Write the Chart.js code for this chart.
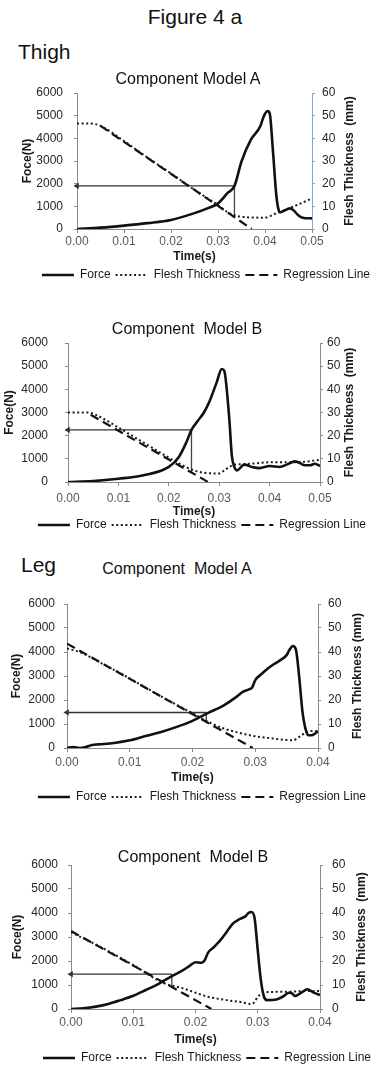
<!DOCTYPE html>
<html>
<head>
<meta charset="utf-8">
<title>Figure 4 a</title>
<script src="https://cdn.jsdelivr.net/npm/chart.js@4.4.1/dist/chart.umd.min.js"></script>
<style>
  html, body { margin: 0; padding: 0; background: #fff; }
  body { width: 385px; height: 1067px; position: relative; overflow: hidden;
         font-family: "Liberation Sans", Arial, sans-serif; color: #111; }
  .txt { position: absolute; white-space: pre; z-index: 2; }
  .fig { font-size: 21px; line-height: 24px; }
  .part { font-size: 21px; line-height: 24px; }
  .ctitle { font-size: 16px; line-height: 19px; width: 300px; text-align: center; }
  canvas { position: absolute; left: 0; z-index: 1; }
</style>
</head>
<body>
<div class="txt fig" style="left:0;width:390px;text-align:center;top:5px;">Figure 4 a</div>
<div class="txt part" style="left:18px;top:40px;">Thigh</div>
<div class="txt part" style="left:21px;top:553px;">Leg</div>

<div class="txt ctitle" style="left:38px;top:69px;">Component Model A</div>
<div class="txt ctitle" style="left:37px;top:319px;">Component  Model B</div>
<div class="txt ctitle" style="left:27px;top:559px;">Component  Model A</div>
<div class="txt ctitle" style="left:43px;top:847px;">Component  Model B</div>

<canvas id="thighA" width="385" height="224"></canvas>
<canvas id="thighB" width="385" height="224"></canvas>
<canvas id="legA" width="385" height="235"></canvas>
<canvas id="legB" width="385" height="235"></canvas>

<script>
// ---- axis ranges and legend names ----
const seriesNames = ['Force', 'Flesh Thickness', 'Regression Line'];
const forceAxis = [0, 6000, 1000];      // min, max, step (N)
const thicknessAxis = [0, 60, 10];      // min, max, step (mm)
const thighTimeAxis = [0, 0.05, 0.01];  // min, max, step (s)
const legTimeAxis = [0, 0.04, 0.01];

// ---- Thigh, component model A ----
const thighA_time = [0, 0.005, 0.01, 0.015, 0.02, 0.025, 0.028, 0.03, 0.032, 0.0335, 0.035, 0.037, 0.039, 0.0396, 0.0405, 0.041, 0.0417, 0.0424, 0.0429, 0.0433, 0.044, 0.0453, 0.046, 0.047, 0.048, 0.05];
const thighA_force = [0, 60, 150, 260, 400, 700, 930, 1130, 1580, 1900, 2980, 3940, 4530, 4900, 5200, 5100, 3420, 1500, 840, 740, 800, 910, 840, 620, 500, 470];
const thighA_thickTime = [0, 0.003, 0.005, 0.01, 0.015, 0.02, 0.025, 0.03, 0.032, 0.034, 0.036, 0.04, 0.042, 0.045, 0.0475, 0.05];
const thighA_thick = [46.5, 46.5, 45.5, 38.8, 31.5, 24.5, 17.3, 10.5, 7.5, 5.8, 5.2, 5, 6.6, 9, 11.2, 13.5];
const thighA_regTime = [0.005, 0.0372];
const thighA_reg = [45.5, 0];
const thighA_arrow = [0.0335, 1900, 590];   // time, force level, lower end (N)

// ---- Thigh, component model B ----
const thighB_time = [0, 0.005, 0.01, 0.015, 0.02, 0.022, 0.0235, 0.0245, 0.0258, 0.027, 0.028, 0.0295, 0.0305, 0.031, 0.032, 0.0325, 0.033, 0.0335, 0.035, 0.0365, 0.038, 0.04, 0.042, 0.0435, 0.045, 0.046, 0.047, 0.048, 0.049, 0.05];
const thighB_force = [0, 40, 140, 290, 650, 1080, 1720, 2250, 2650, 3010, 3440, 4300, 4880, 4800, 2730, 1150, 650, 500, 750, 650, 600, 690, 650, 760, 890, 820, 720, 720, 790, 690];
const thighB_thickTime = [0, 0.004, 0.006, 0.01, 0.015, 0.02, 0.022, 0.025, 0.027, 0.03, 0.031, 0.032, 0.033, 0.035, 0.037, 0.04, 0.045, 0.05];
const thighB_thick = [30, 30, 28.5, 23.5, 17, 10.5, 8, 5, 4, 3.7, 5, 6.5, 7.5, 7.7, 8, 8.5, 8.5, 9.5];
const thighB_regTime = [0.0045, 0.0278];
const thighB_reg = [29, 0];
const thighB_arrow = [0.0245, 2250, 430];

// ---- Leg, component model A ----
const legA_time = [0, 0.001, 0.002, 0.003, 0.004, 0.005, 0.0075, 0.01, 0.0125, 0.015, 0.0175, 0.02, 0.0225, 0.025, 0.027, 0.028, 0.029, 0.0295, 0.03, 0.031, 0.032, 0.033, 0.034, 0.035, 0.0355, 0.036, 0.0365, 0.037, 0.0375, 0.038, 0.0385, 0.039, 0.0395, 0.04];
const legA_force = [0, 40, 0, 40, 125, 150, 210, 320, 500, 670, 880, 1130, 1460, 1780, 2130, 2340, 2440, 2520, 2830, 3080, 3310, 3500, 3660, 3870, 4110, 4250, 4080, 2970, 1570, 810, 530, 530, 600, 700];
const legA_thickTime = [0, 0.0025, 0.005, 0.01, 0.015, 0.02, 0.0225, 0.025, 0.0275, 0.03, 0.033, 0.036, 0.037, 0.038, 0.039, 0.04];
const legA_thick = [41.5, 39.5, 36, 29, 21.5, 14.5, 10.9, 8.1, 6.3, 4.9, 3.9, 3.2, 4.6, 6.3, 7.1, 7];
const legA_regTime = [0, 0.0296];
const legA_reg = [43.5, 0];
const legA_arrow = [0.0222, 1480, 1090];

// ---- Leg, component model B ----
const legB_time = [0, 0.002, 0.004, 0.006, 0.008, 0.01, 0.012, 0.014, 0.016, 0.018, 0.019, 0.02, 0.021, 0.0215, 0.022, 0.023, 0.024, 0.025, 0.026, 0.027, 0.028, 0.0285, 0.029, 0.0295, 0.03, 0.0305, 0.031, 0.0315, 0.033, 0.034, 0.035, 0.0355, 0.036, 0.037, 0.038, 0.039, 0.04];
const legB_force = [0, 30, 100, 210, 370, 550, 790, 1040, 1340, 1620, 1790, 1950, 1930, 2040, 2340, 2590, 2870, 3210, 3560, 3730, 3860, 4000, 4040, 3770, 2450, 1200, 510, 370, 400, 510, 680, 650, 540, 680, 820, 680, 580];
const legB_thickTime = [0, 0.005, 0.01, 0.015, 0.018, 0.02, 0.022, 0.025, 0.027, 0.029, 0.0295, 0.03, 0.031, 0.032, 0.035, 0.038, 0.04];
const legB_thick = [32, 25.5, 18.3, 10.7, 8.6, 6.8, 5.1, 3.7, 3, 2.1, 3, 5.1, 6.8, 7.1, 7.2, 7.5, 7.5];
const legB_regTime = [0, 0.02255];
const legB_reg = [32.5, 0];
const legB_arrow = [0.0162, 1450, 950];

// ---- drawing ----
const FONT = '"Liberation Sans", Arial, sans-serif';
const GREY = '#8a8a8a';
const TOP_GAP = 26;   // canvas space kept above each plot area

function pts(xs, ys) { return xs.map((x, i) => ({ x: x, y: ys[i] })); }

// Rotated title for the secondary (right) axis, reading bottom-to-top
const rightTitlePlugin = {
  id: 'rightTitle',
  afterDraw(chart, args, opts) {
    const { ctx, chartArea } = chart;
    ctx.save();
    ctx.translate(opts.x, (chartArea.top + chartArea.bottom) / 2);
    ctx.rotate(-Math.PI / 2);
    ctx.font = 'bold 12px ' + FONT;
    ctx.fillStyle = '#1a1a1a';
    ctx.textAlign = 'center';
    ctx.textBaseline = 'middle';
    ctx.fillText(opts.text, 0, 0);
    ctx.restore();
  }
};

// Legend entries: the three measured series, each sampled with its own stroke
function legendLabels(chart) {
  return Chart.defaults.plugins.legend.labels.generateLabels(chart)
    .filter(item => item.datasetIndex < 3)
    .map(item => {
      const ds = chart.data.datasets[item.datasetIndex];
      item.lineDash = ds.borderDash || [];
      item.lineWidth = ds.borderWidth;
      item.strokeStyle = ds.borderColor;
      item.fillStyle = ds.borderColor;
      item.pointStyle = 'line';
      return item;
    });
}

function makeChart(canvasId, d, L) {
  const canvas = document.getElementById(canvasId);
  canvas.style.top = (L.plotTop - TOP_GAP) + 'px';
  const W = 385;
  const padRight = W - 2 * L.legendX;      // centres the legend row
  const datasets = [
    { label: seriesNames[0], data: pts(d.time, d.force), yAxisID: 'y',
      borderColor: '#111', backgroundColor: '#111', borderWidth: 2.6,
      pointRadius: 0, cubicInterpolationMode: 'monotone' },
    { label: seriesNames[1], data: pts(d.thickTime, d.thick), yAxisID: 'y2',
      borderColor: '#1a1a1a', backgroundColor: '#1a1a1a', borderWidth: 2,
      borderDash: [2, 2.6], pointRadius: 0, cubicInterpolationMode: 'monotone' },
    { label: seriesNames[2], data: pts(d.regTime, d.reg), yAxisID: 'y2',
      borderColor: '#111', backgroundColor: '#111', borderWidth: 2.2,
      borderDash: [9, 5], pointRadius: 0 },
    { label: 'arrowH', data: [{ x: d.arrow[0], y: d.arrow[1] }, { x: 0, y: d.arrow[1] }], yAxisID: 'y',
      borderColor: '#333', backgroundColor: '#333', borderWidth: 1.3,
      pointRadius: [0, 3.6], pointStyle: 'triangle', rotation: -90, pointBorderWidth: 0,
      pointBackgroundColor: '#333', clip: false },
    { label: 'arrowV', data: [{ x: d.arrow[0], y: d.arrow[1] }, { x: d.arrow[0], y: d.arrow[2] }], yAxisID: 'y',
      borderColor: '#444', borderWidth: 1.3, pointRadius: 0 }
  ];
  return new Chart(canvas, {
    type: 'line',
    data: { datasets: datasets },
    plugins: [rightTitlePlugin],
    options: {
      responsive: false, animation: false, devicePixelRatio: 1,
      layout: { padding: { top: TOP_GAP, left: 0, right: padRight, bottom: 0 } },
      plugins: {
        title: { display: false },
        tooltip: { enabled: false },
        rightTitle: { x: L.rightTitleX, text: L.rightTitle },
        legend: {
          position: 'bottom',
          labels: {
            generateLabels: legendLabels,
            usePointStyle: true, pointStyle: 'line', pointStyleWidth: 32, boxHeight: 12,
            padding: 5, color: '#1a1a1a', font: { family: FONT, size: 12 }
          }
        }
      },
      scales: {
        x: {
          type: 'linear', position: 'bottom',
          min: d.timeAxis[0], max: d.timeAxis[1],
          afterFit: s => { s.height = L.xH; },
          ticks: { stepSize: d.timeAxis[2], maxRotation: 0, autoSkip: false, padding: L.xTickPad,
                   color: '#595959', font: { family: FONT, size: 12 },
                   callback: v => Number(v).toFixed(2) },
          grid: { display: true, drawOnChartArea: false, drawTicks: true, tickLength: 4, color: GREY },
          border: { display: true, color: GREY, width: 1 },
          title: { display: true, text: 'Time(s)', color: '#1a1a1a',
                   font: { family: FONT, size: 12, weight: 'bold' }, padding: { top: 0, bottom: L.timePad } }
        },
        y: {
          type: 'linear', position: 'left',
          min: forceAxis[0], max: forceAxis[1],
          afterFit: s => { s.width = L.plotLeft; },
          ticks: { stepSize: forceAxis[2], padding: L.leftTickGap - 3, color: '#262626',
                   font: { family: FONT, size: 12 }, callback: v => String(v) },
          grid: { display: true, drawOnChartArea: false, drawTicks: true, tickLength: 3, color: GREY },
          border: { display: true, color: GREY, width: 1 },
          title: { display: true, text: 'Foce(N)', color: '#1a1a1a',
                   font: { family: FONT, size: 12, weight: 'bold' },
                   padding: { top: L.leftTitleX - 7.2, bottom: 0 } }
        },
        y2: {
          type: 'linear', position: 'right',
          min: thicknessAxis[0], max: thicknessAxis[1],
          afterFit: s => { s.width = (W - padRight) - L.plotRight; },
          ticks: { stepSize: thicknessAxis[2], padding: L.rightTickGap - 3, color: '#262626',
                   font: { family: FONT, size: 12 }, callback: v => String(v) },
          grid: { display: true, drawOnChartArea: false, drawTicks: true, tickLength: 3, color: L.rightColor },
          border: { display: true, color: L.rightColor, width: 1 }
        }
      }
    }
  });
}

makeChart('thighA',
  { time: thighA_time, force: thighA_force, thickTime: thighA_thickTime, thick: thighA_thick,
    regTime: thighA_regTime, reg: thighA_reg, arrow: thighA_arrow, timeAxis: thighTimeAxis },
  { plotTop: 93, plotLeft: 77, plotRight: 312, xH: 35, xTickPad: 1, timePad: 0,
    legendX: 206, leftTitleX: 28, leftTickGap: 14, rightTickGap: 10, rightTitleX: 350,
    rightTitle: 'Flesh Thickness  (mm)', rightColor: '#86a5d6' });

makeChart('thighB',
  { time: thighB_time, force: thighB_force, thickTime: thighB_thickTime, thick: thighB_thick,
    regTime: thighB_regTime, reg: thighB_reg, arrow: thighB_arrow, timeAxis: thighTimeAxis },
  { plotTop: 343, plotLeft: 68, plotRight: 320, xH: 32, xTickPad: 5, timePad: -5.2,
    legendX: 202, leftTitleX: 10, leftTickGap: 20, rightTickGap: 7, rightTitleX: 350,
    rightTitle: 'Flesh Thickness  (mm)', rightColor: GREY });

makeChart('legA',
  { time: legA_time, force: legA_force, thickTime: legA_thickTime, thick: legA_thick,
    regTime: legA_regTime, reg: legA_reg, arrow: legA_arrow, timeAxis: legTimeAxis },
  { plotTop: 604, plotLeft: 67, plotRight: 318, xH: 38, xTickPad: 3, timePad: 0.8,
    legendX: 202, leftTitleX: 17, leftTickGap: 12, rightTickGap: 10, rightTitleX: 358,
    rightTitle: 'Flesh Thickness (mm)', rightColor: GREY });

makeChart('legB',
  { time: legB_time, force: legB_force, thickTime: legB_thickTime, thick: legB_thick,
    regTime: legB_regTime, reg: legB_reg, arrow: legB_arrow, timeAxis: legTimeAxis },
  { plotTop: 865, plotLeft: 71, plotRight: 320, xH: 38, xTickPad: 2, timePad: 0,
    legendX: 207, leftTitleX: 18, leftTickGap: 13, rightTickGap: 12, rightTitleX: 362,
    rightTitle: 'Flesh Thickness  (mm)', rightColor: GREY });
</script>
</body>
</html>
